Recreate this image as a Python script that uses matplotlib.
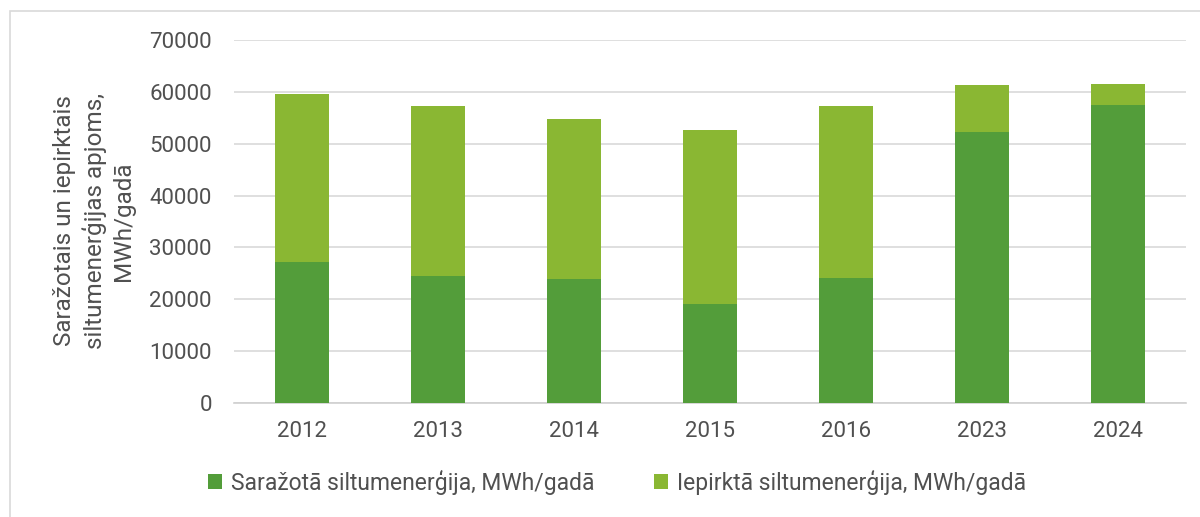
import matplotlib
matplotlib.use("Agg")
import matplotlib.pyplot as plt
from matplotlib.patches import Rectangle

plt.rcParams['font.family'] = ['Roboto', 'DejaVu Sans']

years = ["2012", "2013", "2014", "2015", "2016", "2023", "2024"]
produced = [27100, 24500, 23900, 19000, 24150, 52200, 57450]
purchased = [32400, 32800, 30950, 33600, 33100, 9050, 4150]
series_names = ["Saražotā siltumenerģija, MWh/gadā", "Iepirktā siltumenerģija, MWh/gadā"]
ylabel = "Saražotais un iepirktais\nsiltumenerģijas apjoms,\nMWh/gadā"
yticks = [0, 10000, 20000, 30000, 40000, 50000, 60000, 70000]

c_dark = "#539D3A"
c_light = "#8AB733"
txt = "#505050"

fig = plt.figure(figsize=(12, 5.17), dpi=100)
fig.patches.append(Rectangle((10/1200, -0.01), 1.0, 1 - 11/517 + 0.01, transform=fig.transFigure,
                             fill=False, edgecolor="#D9D9D9", linewidth=1.2))
ax = fig.add_axes([234/1200, 1 - 403/517, (1186-234)/1200, (403-40)/517])

x = list(range(len(years)))
ax.bar(x, produced, width=0.4, color=c_dark, label=series_names[0], zorder=3)
ax.bar(x, purchased, width=0.4, bottom=produced, color=c_light, label=series_names[1], zorder=3)

ax.set_xlim(-0.5, len(years) - 0.5)
ax.set_ylim(0, 70000)
ax.set_yticks(yticks)
ax.set_yticklabels([str(v) for v in yticks])
ax.set_xticks(x)
ax.set_xticklabels(years)
ax.yaxis.grid(True, color="#D9D9D9", linewidth=1.2, zorder=0)
ax.set_axisbelow(True)
for s in ["top", "right", "left"]:
    ax.spines[s].set_visible(False)
ax.spines["bottom"].set_color("#D0D0D0")
ax.spines["bottom"].set_linewidth(1.2)
ax.tick_params(axis="both", length=0, labelsize=16, colors=txt)
ax.tick_params(axis="y", pad=16)
ax.tick_params(axis="x", pad=13)

fig.text(94/1200, 1 - 221/517, ylabel, rotation=90, ha="center", va="center",
         fontsize=17.5, color=txt, linespacing=1.3)

leg = fig.legend(loc="center", bbox_to_anchor=(0.514, 1 - 482/517), ncol=2, frameon=False,
                 fontsize=16.5, handlelength=0.6, handleheight=0.6, handletextpad=0.4,
                 columnspacing=2.6)
for t in leg.get_texts():
    t.set_color(txt)

fig.savefig("out.png", dpi=100, facecolor="white")
